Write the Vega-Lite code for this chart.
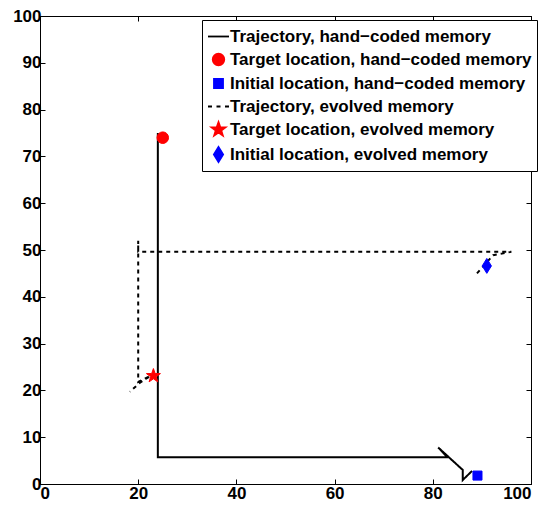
{
  "$schema": "https://vega.github.io/schema/vega-lite/v6.json",
  "width": 491,
  "height": 468,
  "autosize": {"type": "none"},
  "padding": {"left": 40, "top": 16, "right": 17, "bottom": 24},
  "background": "white",
  "config": {
    "font": "Liberation Sans",
    "view": {"stroke": "black", "strokeWidth": 1},
    "axis": {
      "grid": false,
      "domainColor": "black",
      "domainWidth": 1,
      "tickColor": "black",
      "tickWidth": 1,
      "labelColor": "black",
      "labelFont": "Liberation Sans",
      "labelFontWeight": "bold",
      "labelFontSize": 17,
      "title": null
    },
    "legend": {
      "title": null,
      "labelFont": "Liberation Sans",
      "labelFontWeight": "bold",
      "labelFontSize": 17,
      "labelColor": "black",
      "labelLimit": 400,
      "labelOffset": 0,
      "rowPadding": 3,
      "padding": 5,
      "strokeColor": "black",
      "fillColor": "white",
      "symbolSize": 441,
      "symbolStrokeWidth": 1.8,
      "symbolOpacity": 1
    }
  },
  "datasets": {
    "paths": [
      {"series": "Trajectory, hand−coded memory", "step": 1, "x": 88, "y": 2.8},
      {"series": "Trajectory, hand−coded memory", "step": 2, "x": 86.1, "y": 0.85},
      {"series": "Trajectory, hand−coded memory", "step": 3, "x": 86.1, "y": 3.0},
      {"series": "Trajectory, hand−coded memory", "step": 4, "x": 81.1, "y": 7.8},
      {"series": "Trajectory, hand−coded memory", "step": 5, "x": 83, "y": 5.7},
      {"series": "Trajectory, hand−coded memory", "step": 6, "x": 24, "y": 5.7},
      {"series": "Trajectory, hand−coded memory", "step": 7, "x": 24, "y": 75},
      {"series": "Trajectory, evolved memory", "step": 1, "x": 89, "y": 45},
      {"series": "Trajectory, evolved memory", "step": 2, "x": 92.3, "y": 48.9},
      {"series": "Trajectory, evolved memory", "step": 3, "x": 96, "y": 49.6},
      {"series": "Trajectory, evolved memory", "step": 4, "x": 20, "y": 49.6},
      {"series": "Trajectory, evolved memory", "step": 5, "x": 20, "y": 52},
      {"series": "Trajectory, evolved memory", "step": 6, "x": 20, "y": 21.8},
      {"series": "Trajectory, evolved memory", "step": 7, "x": 22.5, "y": 23.1},
      {"series": "Trajectory, evolved memory", "step": 8, "x": 20.3, "y": 21.6},
      {"series": "Trajectory, evolved memory", "step": 9, "x": 18.3, "y": 19.7}
    ],
    "markers": [
      {"series": "Target location, hand−coded memory", "x": 25, "y": 74},
      {"series": "Initial location, hand−coded memory", "x": 89.1, "y": 1.8},
      {"series": "Target location, evolved memory", "x": 23.1, "y": 23.1},
      {"series": "Initial location, evolved memory", "x": 91, "y": 46.6}
    ]
  },
  "layer": [
    {
      "data": {"name": "paths"},
      "mark": {"type": "line", "stroke": "black", "strokeWidth": 2, "clip": false},
      "encoding": {
        "x": {"field": "x", "type": "quantitative", "scale": {"domain": [0, 100], "nice": false, "zero": false},
              "axis": {"orient": "bottom", "values": [0, 20, 40, 60, 80, 100], "tickSize": -5, "labelPadding": 6}},
        "y": {"field": "y", "type": "quantitative", "scale": {"domain": [0, 100], "nice": false, "zero": false},
              "axis": {"orient": "left", "values": [0, 10, 20, 30, 40, 50, 60, 70, 80, 90, 100], "tickSize": -5, "labelPadding": 4}},
        "order": {"field": "step", "type": "quantitative"},
        "detail": {"field": "series", "type": "nominal"},
        "strokeDash": {"field": "series", "type": "nominal",
                       "scale": {"domain": ["Trajectory, hand−coded memory", "Trajectory, evolved memory"], "range": [[1, 0], [4, 4]]},
                       "legend": null}
      }
    },
    {
      "data": {"name": "markers"},
      "mark": {"type": "point", "filled": true, "strokeWidth": 1, "opacity": 1, "size": 441},
      "encoding": {
        "x": {"field": "x", "type": "quantitative", "scale": {"domain": [0, 100], "nice": false, "zero": false},
              "axis": {"orient": "top", "values": [0, 20, 40, 60, 80, 100], "tickSize": -5, "labels": false}},
        "y": {"field": "y", "type": "quantitative", "scale": {"domain": [0, 100], "nice": false, "zero": false},
              "axis": {"orient": "right", "values": [0, 10, 20, 30, 40, 50, 60, 70, 80, 90, 100], "tickSize": -5, "labels": false}},
        "fill": {"field": "series", "type": "nominal",
                 "scale": {"domain": ["Trajectory, hand−coded memory", "Target location, hand−coded memory", "Initial location, hand−coded memory", "Trajectory, evolved memory", "Target location, evolved memory", "Initial location, evolved memory"],
                           "range": ["black", "red", "blue", "black", "red", "blue"]},
                 "legend": {"orient": "none", "legendX": 162, "legendY": 4}},
        "stroke": {"field": "series", "type": "nominal",
                   "scale": {"domain": ["Trajectory, hand−coded memory", "Target location, hand−coded memory", "Initial location, hand−coded memory", "Trajectory, evolved memory", "Target location, evolved memory", "Initial location, evolved memory"],
                             "range": ["black", "red", "blue", "black", "red", "blue"]},
                   "legend": {"orient": "none", "legendX": 162, "legendY": 4}},
        "shape": {"field": "series", "type": "nominal",
                  "scale": {"domain": ["Trajectory, hand−coded memory", "Target location, hand−coded memory", "Initial location, hand−coded memory", "Trajectory, evolved memory", "Target location, evolved memory", "Initial location, evolved memory"],
                            "range": ["M-1,0H1", "M0.55,0A0.55,0.55,0,1,1,-0.55,0A0.55,0.55,0,1,1,0.55,0Z", "M-0.43,-0.43H0.43V0.43H-0.43Z", "M-1,0H-0.62M-0.19,0H0.19M0.62,0H1", "M0,-0.7L0.165,-0.227L0.666,-0.216L0.266,0.087L0.412,0.566L0,0.28L-0.412,0.566L-0.266,0.087L-0.666,-0.216L-0.165,-0.227Z", "M0,-0.71L0.44,0L0,0.71L-0.44,0Z"]},
                  "legend": {"orient": "none", "legendX": 162, "legendY": 4}}
      }
    }
  ],
  "resolve": {"axis": {"x": "independent", "y": "independent"}}
}
